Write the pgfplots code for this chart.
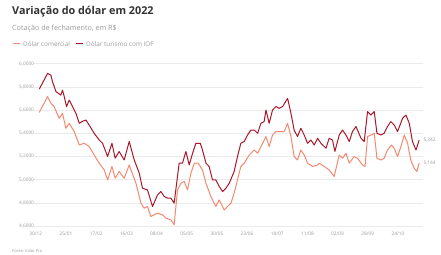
\documentclass[border=0pt]{standalone}
\usepackage{fontspec}
\setmainfont{Open Sans}
\usepackage{pgfplots}
\pgfplotsset{compat=1.18}
\definecolor{turismo}{HTML}{A8182A}
\definecolor{comercial}{HTML}{F38A70}
\definecolor{gridc}{HTML}{EBEBEB}
\definecolor{labc}{HTML}{9A9A9A}
\definecolor{titc}{HTML}{333333}
\begin{document}
\begin{tikzpicture}[x=1pt,y=1pt]
\path[use as bounding box] (0,0) rectangle (441,254);
\node[anchor=west,text=titc,font=\fontsize{10.8}{12}\selectfont\bfseries,inner sep=0] at (12,242) {Variação do dólar em 2022};
\node[anchor=west,text=labc,font=\fontsize{7.2}{8}\selectfont,inner sep=0] at (12,225) {Cotação de fechamento, em R\$};
\draw[draw=comercial,line width=1pt] (13,210) -- (20,210);
\node[anchor=west,text=labc,font=\fontsize{6.4}{7}\selectfont,inner sep=0] at (23,210) {Dólar comercial};
\draw[draw=turismo,line width=1pt] (76,210) -- (83,210);
\node[anchor=west,text=labc,font=\fontsize{6.4}{7}\selectfont,inner sep=0] at (86,210) {Dólar turismo com IOF};
\node[anchor=west,text=labc,font=\fontsize{4}{5}\selectfont,inner sep=0] at (12,3) {Fonte: Valor Pro};
\begin{axis}[
  at={(20,24)}, anchor=south west,
  scale only axis, width=389pt, height=162.5pt,
  xmin=-3.4, xmax=228.7, ymin=4.6, ymax=6.0,
  axis line style={draw=none},
  tick style={draw=none},
  ymajorgrids, grid style={gridc, line width=0.5pt},
  ytick={4.6,4.8,5.0,5.2,5.4,5.6,5.8,6.0},
  yticklabel style={overlay,text=labc,font=\fontsize{4.8}{5}\selectfont,xshift=4pt},
  xticklabel style={overlay,text=labc,font=\fontsize{4.8}{5}\selectfont,yshift=-2pt},
  /pgf/number format/assume math mode=true,
  y tick label style={/pgf/number format/.cd, fixed, fixed zerofill, precision=4, use comma, 1000 sep={}},
  xtick={-2,16,34,52,70,88,106,124,142,160,178,196,214},
  xticklabels={30/12,25/01,17/02,16/03,08/04,05/05,30/05,23/06,18/07,11/08,02/09,28/09,24/10},
  clip=false,
]
\addplot[comercial, line width=1pt, line join=round] coordinates {
(0,5.580)(5.0,5.716)(7.0,5.658)(8.9,5.630)(11.9,5.529)(13.9,5.572)(15.9,5.443)(17.9,5.486)
(20.9,5.415)(23.9,5.299)(26.8,5.314)(29.8,5.286)(32.8,5.213)(35.8,5.142)(38.8,5.084)(40.8,4.998)
(43.4,5.114)(45.3,5.013)(47.7,5.071)(50.7,5.013)(53.7,5.127)(57.7,4.970)(60.7,4.798)(62.6,4.755)
(64.6,4.769)(66.6,4.683)(70.6,4.712)(73.6,4.697)(75.6,4.669)(78.6,4.654)(80.5,4.611)(82.5,4.912)
(84.5,4.970)(86.5,4.985)(88.5,4.912)(90.5,5.056)(92.5,5.142)(94.9,5.142)(97.4,5.084)(99.5,4.970)
(102.4,4.855)(105.4,4.769)(107.4,4.826)(110.4,4.740)(112.3,4.769)(114.4,4.798)(116.3,4.884)(118.3,4.998)
(120.3,5.114)(122.3,5.142)(125.3,5.213)(128.3,5.256)(130.3,5.228)(132.3,5.286)(135.3,5.372)(137.2,5.286)
(139.2,5.385)(141.2,5.415)(143.2,5.415)(146.2,5.415)(148.2,5.486)(150.2,5.372)(152.1,5.200)(154.1,5.170)
(156.1,5.256)(158.1,5.213)(160.1,5.142)(163.1,5.114)(166.1,5.127)(167.1,5.142)(170.0,5.114)(173.0,5.084)
(176.0,5.028)(179.0,5.213)(181.0,5.185)(183.0,5.228)(185.0,5.142)(187.9,5.200)(189.9,5.185)(192.9,5.127)
(194.4,5.114)(195.9,5.372)(197.9,5.385)(199.9,5.400)(201.5,5.185)(203.9,5.170)(205.8,5.185)(207.8,5.256)
(210.2,5.299)(211.8,5.271)(213.8,5.200)(215.8,5.286)(217.8,5.385)(219.8,5.314)(221.7,5.170)(223.7,5.099)
(225.3,5.071)(226.7,5.144)
};
\addplot[turismo, line width=1pt, line join=round] coordinates {
(0,5.780)(5.0,5.916)(7.0,5.900)(7.9,5.845)(10.0,5.759)(12.9,5.729)(13.9,5.772)(14.9,5.718)
(16.3,5.630)(17.9,5.686)(19.9,5.630)(21.9,5.572)(23.9,5.486)(25.8,5.503)(27.9,5.514)(29.8,5.471)
(32.8,5.400)(35.8,5.342)(37.8,5.314)(40.8,5.200)(43.4,5.314)(45.3,5.185)(47.7,5.243)(50.7,5.170)
(53.7,5.329)(56.7,5.170)(59.7,5.056)(61.6,4.927)(64.6,4.912)(67.6,4.769)(70.6,4.869)(72.6,4.898)
(74.6,4.855)(76.6,4.841)(78.6,4.841)(80.5,4.798)(82.5,5.028)(83.5,5.142)(85.5,5.142)(87.5,5.243)
(89.5,5.127)(91.5,5.228)(93.5,5.314)(96.1,5.314)(97.4,5.256)(99.5,5.142)(101.4,5.114)(103.4,4.998)
(105.4,4.998)(107.4,4.942)(109.4,4.898)(111.4,4.927)(113.4,4.970)(116.3,5.071)(118.3,5.200)(120.3,5.314)
(122.3,5.329)(124.3,5.385)(126.3,5.428)(128.3,5.428)(130.3,5.400)(132.3,5.486)(134.2,5.501)(135.3,5.600)
(137.2,5.486)(139.2,5.600)(141.2,5.630)(143.2,5.615)(145.2,5.630)(148.2,5.701)(150.2,5.572)(152.1,5.428)
(154.1,5.372)(156.1,5.443)(158.1,5.385)(160.1,5.314)(162.1,5.342)(164.1,5.299)(166.1,5.357)(168.1,5.314)
(171.1,5.271)(173.0,5.357)(175.0,5.342)(176.4,5.243)(179.0,5.385)(181.0,5.428)(183.0,5.385)(185.0,5.329)
(186.9,5.415)(189.0,5.458)(192.0,5.357)(193.9,5.329)(195.9,5.587)(197.9,5.557)(199.9,5.587)(201.5,5.400)
(203.9,5.385)(205.8,5.400)(207.8,5.458)(209.8,5.501)(211.8,5.471)(213.8,5.415)(216.8,5.529)(218.8,5.557)
(220.8,5.486)(222.7,5.329)(224.8,5.256)(226.7,5.342)
};
\node[overlay,anchor=west,text=labc,font=\fontsize{4.8}{5}\selectfont,inner sep=0] at (axis cs:229.2,5.342) {5,342};
\node[overlay,anchor=west,text=labc,font=\fontsize{4.8}{5}\selectfont,inner sep=0] at (axis cs:229.2,5.144) {5,144};
\end{axis}
\end{tikzpicture}
\end{document}
